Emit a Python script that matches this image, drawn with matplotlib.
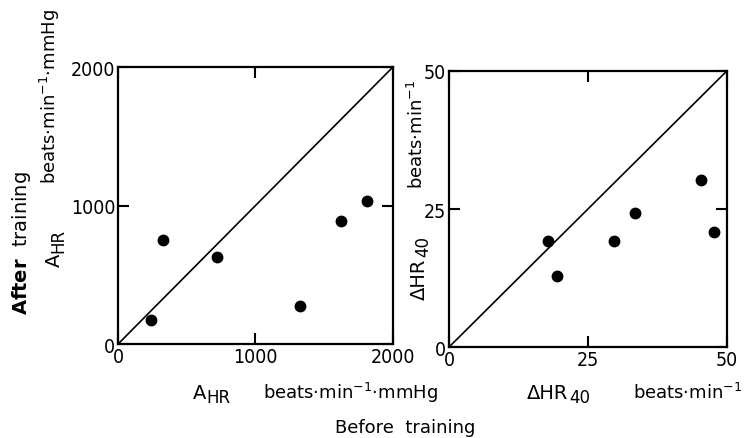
import matplotlib
matplotlib.use('Agg')
import matplotlib.pyplot as plt
from matplotlib.transforms import offset_copy

# values
ahr_before = [240, 327, 720, 1324, 1622, 1811]
ahr_after = [173, 751, 628, 274, 888, 1032]
ahr_ticks = [0, 1000, 2000]

dhr_before = [17.9, 19.4, 29.7, 33.5, 45.4, 47.7]
dhr_after = [19.3, 12.8, 19.3, 24.3, 30.3, 20.8]
dhr_ticks = [0, 25, 50]

plt.rcParams['font.family'] = ['DejaVu Sans']
plt.rcParams['mathtext.fontset'] = 'dejavusans'

tickfont = {'family': ['DejaVu Sans'], 'size': 14, 'stretch': 'condensed'}
labsize = 13


def panel(ax, xs, ys, ticks):
    lim = [ticks[0], ticks[-1]]
    ax.plot(lim, lim, color='black', lw=1.2)
    ax.plot(xs, ys, 'o', color='black', ms=7.5)
    ax.set_xlim(lim)
    ax.set_ylim(lim)
    ax.set_xticks(ticks)
    ax.set_yticks(ticks)
    ax.set_xticklabels([str(t) for t in ticks], fontdict=tickfont)
    ax.set_yticklabels([str(t) for t in ticks], fontdict=tickfont)
    ax.tick_params(direction='in', length=8, width=1.5, top=True, right=True, pad=2)
    for s in ax.spines.values():
        s.set_linewidth(1.6)


def sublabel(fig, x, y, main, sub, vertical=False, adv=10.0):
    # main letter(s) plus a slightly smaller, lowered subscript
    rot = 90 if vertical else 0
    fig.text(x, y, main, fontsize=labsize + 1, rotation=rot,
             ha='left', va='baseline', rotation_mode='anchor')
    if vertical:
        tr = offset_copy(fig.transFigure, fig=fig, x=2.5, y=adv, units='points')
    else:
        tr = offset_copy(fig.transFigure, fig=fig, x=adv, y=-2.5, units='points')
    fig.text(x, y, sub, fontsize=labsize - 1, rotation=rot, transform=tr,
             ha='left', va='baseline', rotation_mode='anchor')


fig = plt.figure(figsize=(7.47, 4.39), dpi=100)
ax1 = fig.add_axes([0.158, 0.214, 0.368, 0.631])
ax2 = fig.add_axes([0.601, 0.207, 0.372, 0.629])

panel(ax1, ahr_before, ahr_after, ahr_ticks)
panel(ax2, dhr_before, dhr_after, dhr_ticks)

# left panel labels
sublabel(fig, 0.258, 0.090, 'A', 'HR')
fig.text(0.352, 0.105, 'beats·min$^{-1}$·mmHg', fontsize=labsize, ha='left', va='center')
sublabel(fig, 0.080, 0.392, 'A', 'HR', vertical=True)
fig.text(0.067, 0.580, 'beats·min$^{-1}$·mmHg', fontsize=labsize, rotation=90, ha='center', va='bottom')
fig.text(0.029, 0.282, r'$\bf{After}$  training', fontsize=labsize + 1, rotation=90, ha='center', va='bottom')

# right panel labels
sublabel(fig, 0.705, 0.090, 'ΔHR', '40', adv=31)
fig.text(0.847, 0.105, 'beats·min$^{-1}$', fontsize=labsize, ha='left', va='center')
sublabel(fig, 0.569, 0.317, 'ΔHR', '40', vertical=True, adv=31)
fig.text(0.558, 0.570, 'beats·min$^{-1}$', fontsize=labsize, rotation=90, ha='center', va='bottom')

fig.text(0.449, 0.025, 'Before  training', fontsize=labsize, ha='left', va='center')

fig.savefig('out.png', dpi=100)
